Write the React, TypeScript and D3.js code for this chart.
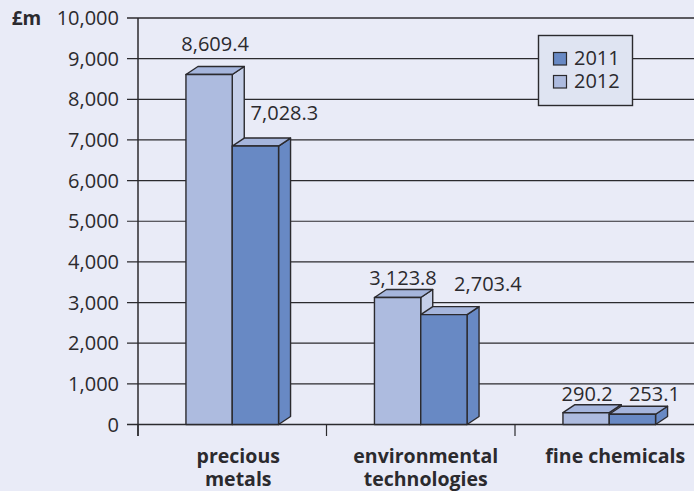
import React from "react";
import * as d3 from "d3";

const categories = ["precious metals", "environmental technologies", "fine chemicals"];
const categoryLines = [["precious", "metals"], ["environmental", "technologies"], ["fine chemicals"]];
const values2012 = [8609.4, 3123.8, 290.2];
const values2011 = [7028.3, 2703.4, 253.1];
// The reference draws the first 2011 bar lower than its printed label (about 6,850).
const drawn2011 = [6850, 2703.4, 253.1];
const valueTicks = [0, 1000, 2000, 3000, 4000, 5000, 6000, 7000, 8000, 9000, 10000];
const legendItems = ["2011", "2012"];

const W = 694, H = 491;
const FONT = "'Open Sans', 'Noto Sans', sans-serif";
const INK = "#2b2a2e";
const LIGHT = "#adbbdf", LIGHT_SIDE = "#c5cfe9", DARK = "#6889c4", DARK_TOP = "#a5b5dc";
const DX = 12, DY = 8;
const FS = 20;

const y = d3.scaleLinear().domain([0, 10000]).range([424.5, 18]);
const x = d3.scaleBand<string>().domain(categories).range([138, 703.5]);
const fmtTick = d3.format(",.0f");
const fmtVal = d3.format(",.1f");

function Bar({ x0, w, v, front, top, side }: { x0: number; w: number; v: number; front: string; top: string; side: string }) {
  const yt = y(v), yb = y(0);
  const pts = (a: number[][]) => a.map((p) => p.join(",")).join(" ");
  return (
    <g stroke={INK} strokeWidth={1.4} strokeLinejoin="round">
      <polygon fill={side} points={pts([[x0 + w, yt], [x0 + w + DX, yt - DY], [x0 + w + DX, yb - DY], [x0 + w, yb]])} />
      <polygon fill={top} points={pts([[x0, yt], [x0 + DX, yt - DY], [x0 + w + DX, yt - DY], [x0 + w, yt]])} />
      <rect x={x0} y={yt} width={w} height={yb - yt} fill={front} />
    </g>
  );
}

export default function App() {
  const barW = 46.3;
  const labelDx12 = [-6, -6.6, -11];
  const labelDy12 = [-23.5, -12.5, -12];
  const labelDx11 = [17, 32, 10];
  const labelDy11 = [-26, -23.6, -13.6];
  const catDx = [6, 5, 6];
  return (
    <svg width={W} height={H} viewBox={`0 0 ${W} ${H}`} style={{ position: "absolute", left: 0, top: 0, background: "#e9ebf7", fontFamily: FONT }}>
      <text x={26.5} y={25} fontSize={19} fontWeight={700} fill={INK} textAnchor="middle">£m</text>
      {valueTicks.map((t) => (
        <g key={t}>
          <line x1={127} x2={W} y1={y(t)} y2={y(t)} stroke={INK} strokeWidth={t === 10000 || t === 0 ? 1.4 : 1.2} />
          <text x={119} y={y(t) + 7} fontSize={FS} fill={INK} textAnchor="end">{fmtTick(t)}</text>
        </g>
      ))}
      <line x1={138} x2={138} y1={18} y2={436} stroke={INK} strokeWidth={1.5} />
      {categories.map((c) => (
        <line key={c} x1={x(c)!} x2={x(c)!} y1={424} y2={436} stroke={INK} strokeWidth={1.2} />
      ))}
      {categories.map((c, i) => {
        const cx = x(c)! + x.bandwidth() / 2;
        const l = cx - barW;
        const h12 = y(values2012[i]), h11 = y(drawn2011[i]);
        return (
          <g key={c}>
            <Bar x0={l} w={barW} v={values2012[i]} front={LIGHT} top={DARK_TOP} side={LIGHT_SIDE} />
            <Bar x0={cx} w={barW} v={drawn2011[i]} front={DARK} top={DARK_TOP} side={DARK} />
            <text x={l + barW / 2 + 12 + labelDx12[i]} y={h12 + labelDy12[i]} fontSize={FS} fill={INK} textAnchor="middle">{fmtVal(values2012[i])}</text>
            <text x={cx + barW / 2 + 12 + labelDx11[i]} y={h11 + labelDy11[i]} fontSize={FS} fill={INK} textAnchor="middle">{fmtVal(values2011[i])}</text>
            <text x={cx + catDx[i]} y={463} fontSize={19.5} fontWeight={700} fill={INK} textAnchor="middle">
              {categoryLines[i].map((s, k) => (
                <tspan key={s} x={cx + catDx[i]} dy={k === 0 ? 0 : 23}>{s}</tspan>
              ))}
            </text>
          </g>
        );
      })}
      <rect x={538.5} y={35.5} width={94} height={70} fill="#dfe4f2" stroke={INK} strokeWidth={1.4} />
      {legendItems.map((s, i) => (
        <g key={s}>
          <rect x={553.5} y={52.5 + i * 23} width={13} height={12.5} fill={i === 0 ? DARK : LIGHT} stroke={INK} strokeWidth={1.2} />
          <text x={574} y={65 + i * 23} fontSize={FS} fill={INK}>{s}</text>
        </g>
      ))}
    </svg>
  );
}
